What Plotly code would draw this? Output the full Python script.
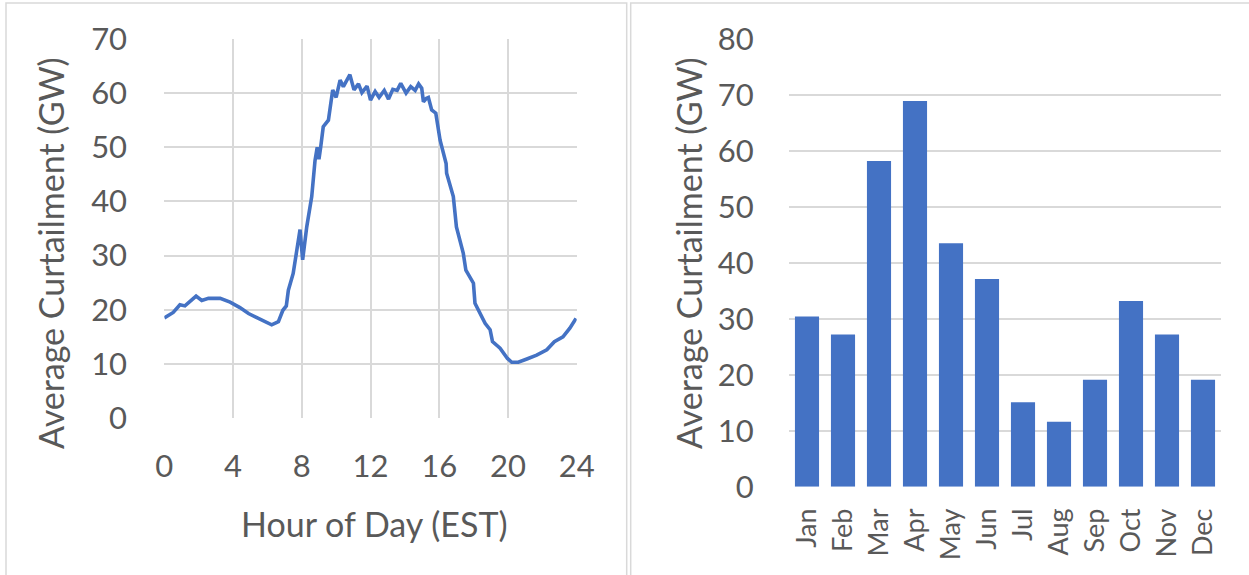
import plotly.graph_objects as go

# hourly curtailment profile (hour of day EST, GW)
HOURS = [0, 0.52, 0.91, 1.2, 1.85, 2.18, 2.57, 3.25, 3.83, 4.4, 4.9, 5.57, 5.96, 6.25,
         6.64, 6.9, 7.1, 7.22, 7.5, 7.7, 7.9, 8.05, 8.29, 8.58, 8.77, 8.9, 9.0, 9.1,
         9.25, 9.55, 9.8, 10.0, 10.23, 10.42, 10.6, 10.8, 11.04, 11.3, 11.5, 11.8,
         12.0, 12.27, 12.5, 12.8, 13.05, 13.3, 13.55, 13.76, 14.07, 14.34, 14.6, 14.8,
         14.98, 15.08, 15.24, 15.37, 15.56, 15.8, 16.05, 16.24, 16.4, 16.43, 16.82,
         17.0, 17.2, 17.4, 17.55, 17.8, 17.99, 18.08, 18.38, 18.67, 18.96, 19.1,
         19.54, 19.97, 20.22, 20.6, 21.1, 21.67, 22.26, 22.7, 23.2, 23.6, 23.96]
HOURLY_GW = [18.5, 19.5, 20.9, 20.7, 22.5, 21.7, 22.1, 22.1, 21.4, 20.4, 19.3, 18.3, 17.8,
             17.2, 17.8, 19.9, 20.7, 23.6, 26.7, 30.4, 34.8, 29.2, 35.3, 40.9, 47.5, 50.0,
             47.8, 50.0, 53.8, 55.0, 60.6, 59.2, 62.4, 61.2, 62.1, 63.4, 60.6, 61.7, 60.1,
             61.3, 58.7, 60.3, 59.2, 60.5, 58.9, 60.7, 60.5, 61.8, 60.0, 61.2, 60.5, 61.7,
             60.9, 58.4, 59.0, 59.2, 56.9, 56.3, 51.3, 48.6, 47.0, 45.2, 40.9, 35.3, 32.9,
             30.4, 27.3, 26.1, 24.9, 21.2, 19.3, 17.5, 16.3, 14.1, 12.9, 11.0, 10.3, 10.3,
             10.9, 11.6, 12.6, 14.1, 15.0, 16.6, 18.4]

# monthly curtailment (GW)
MONTHS = ["Jan", "Feb", "Mar", "Apr", "May", "Jun", "Jul", "Aug", "Sep", "Oct", "Nov", "Dec"]
MONTHLY_GW = [30.4, 27.2, 58.2, 68.9, 43.5, 37.1, 15.1, 11.6, 19.1, 33.2, 27.2, 19.1]

HOUR_TICKS = [0, 4, 8, 12, 16, 20, 24]

W, H = 1249, 575
BLUE = "#4472C4"
GRID = "#D9D9D9"
TXT = "#595959"
FONT = "Lato"


def px(x):
    return x / W


def py(y):
    return 1 - y / H


fig = go.Figure()
fig.add_trace(go.Scatter(x=HOURS, y=HOURLY_GW, mode="lines",
                         line=dict(color=BLUE, width=3.6),
                         xaxis="x", yaxis="y", showlegend=False))
fig.add_trace(go.Bar(x=MONTHS, y=MONTHLY_GW, marker=dict(color=BLUE, line=dict(width=0)),
                     xaxis="x2", yaxis="y2", showlegend=False))

ax_common = dict(automargin=False, zeroline=False, showline=False,
                 gridcolor=GRID, gridwidth=1.5,
                 tickfont=dict(family=FONT, size=31, color=TXT),
                 ticks="outside", tickcolor="rgba(0,0,0,0)")

title_font = dict(family=FONT, size=34, color=TXT)

fig.update_layout(
    width=W, height=H,
    margin=dict(l=0, r=0, t=0, b=0),
    paper_bgcolor="white", plot_bgcolor="white",
    template="none",
    bargap=0.33,
    xaxis=dict(ax_common, domain=[px(164.3), px(576.7)], range=[0, 24],
               tickvals=HOUR_TICKS, showgrid=True, ticklen=21, anchor="y"),
    yaxis=dict(ax_common, domain=[py(418), py(39)], range=[0, 70], dtick=10,
               showgrid=True, ticklen=30, anchor="x"),
    xaxis2=dict(ax_common, domain=[px(789), px(1221)], showgrid=False,
                tickangle=-90, ticklen=10, anchor="y2",
                tickfont=dict(family=FONT, size=27, color=TXT)),
    yaxis2=dict(ax_common, domain=[py(486.7), py(39)], range=[0, 80], dtick=10,
                showgrid=True, ticklen=28, anchor="x2"),
    annotations=[
        dict(text="Average Curtailment (GW)", x=px(51), y=py(253), xref="paper", yref="paper",
             xanchor="center", yanchor="middle", textangle=-90, showarrow=False, font=title_font),
        dict(text="Average Curtailment (GW)", x=px(689), y=py(253), xref="paper", yref="paper",
             xanchor="center", yanchor="middle", textangle=-90, showarrow=False, font=title_font),
        dict(text="Hour of Day (EST)", x=px(374), y=py(523), xref="paper", yref="paper",
             xanchor="center", yanchor="middle", showarrow=False, font=title_font),
    ],
    shapes=[
        dict(type="rect", xref="paper", yref="paper", x0=px(6), x1=px(626.7), y0=-0.05, y1=py(3),
             line=dict(color=GRID, width=1.5)),
        dict(type="rect", xref="paper", yref="paper", x0=px(630.7), x1=1.05, y0=-0.05, y1=py(3),
             line=dict(color=GRID, width=1.5)),
    ],
)

# page body has a default 8px margin; drop it so the figure sits at the window corner
fig.write_html("out.html", config={"displayModeBar": False},
               post_script="document.body.style.margin='0';")
